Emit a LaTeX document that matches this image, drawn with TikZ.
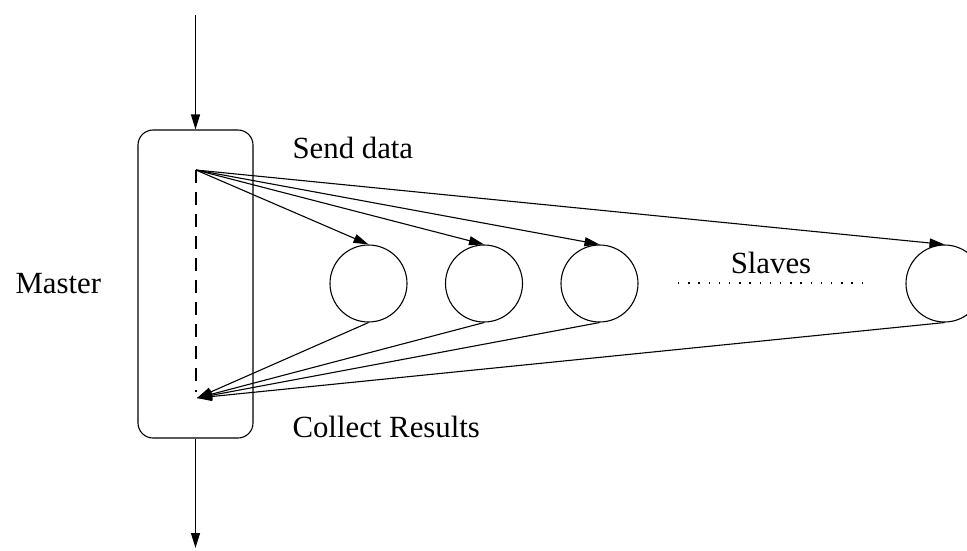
\documentclass[tikz,border=0pt]{standalone}
\usepackage{fontspec}
\setmainfont{Liberation Serif}
\usetikzlibrary{arrows.meta}
\begin{document}
\begin{tikzpicture}[x=1pt,y=-1pt,
  line width=1.1pt,
  arr/.style={-{Triangle[length=15pt,width=9pt]}},
  slave/.style={draw,circle,minimum size=77pt,inner sep=0pt},
  lbl/.style={anchor=base west,inner sep=0pt,font=\fontsize{30.8}{36}\selectfont}]
\useasboundingbox (0,0) rectangle (967,550);
\node[draw,rounded corners=15pt,minimum width=115pt,minimum height=308pt,inner sep=0pt] (master) at (195.5,284) {};
\coordinate (in) at (195.5,15);
\coordinate (out) at (195.5,548);
\coordinate (s) at (196,170);
\coordinate (c) at (197,398);
\draw[arr] (in) -- (master.north);
\draw[arr] (master.south) -- (out);
\draw[dashed,dash pattern=on 13pt off 9pt] (s) -- (196,392);
\node[slave] (s1) at (368.5,283.5) {};
\node[slave] (s2) at (484,283.5) {};
\node[slave] (s3) at (599.5,283.5) {};
\node[slave] (s4) at (944.5,283.5) {};
\foreach \n in {s1,s2,s3,s4}{
  \draw[arr] (s) -- (\n.north);
  \draw[arr] (\n.south) -- (c);
}
\node[lbl] (master label) at (15,293) {Master};
\node[lbl] (send) at (292,158) {Send data};
\node[lbl] (collect) at (292,437) {Collect Results};
\node[lbl,anchor=base] (slaves) at (771,273) {Slaves};
\coordinate (d1) at (678,283);
\coordinate (d2) at (862,283);
\draw[line width=1.3pt,dash pattern=on 1.3pt off 8.9pt] (d1) -- (d2);
\end{tikzpicture}
\end{document}
